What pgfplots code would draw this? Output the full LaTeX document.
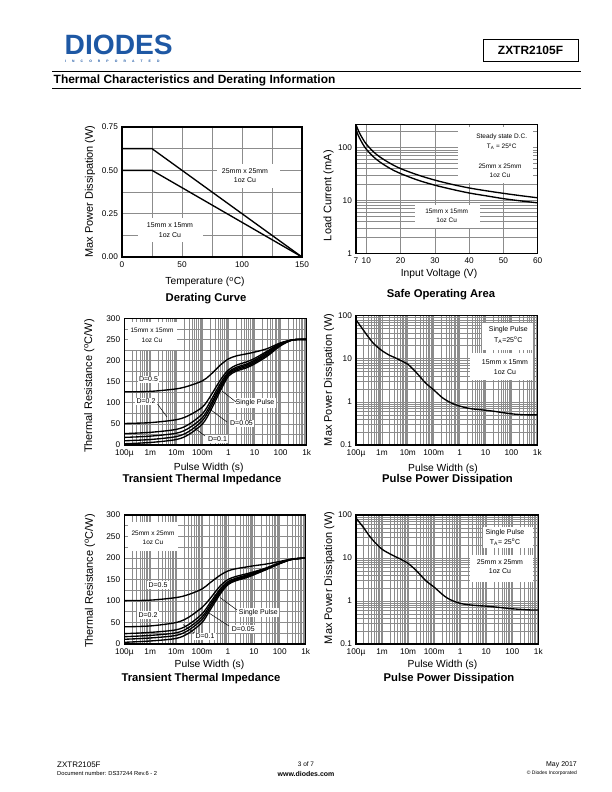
\documentclass[border=0pt]{standalone}
\usepackage{fontspec}
\setmainfont{Liberation Sans}
\usepackage{graphicx}
\usepackage{pgfplots}
\pgfplotsset{compat=1.18}
\definecolor{dblue}{RGB}{30,88,164}
\definecolor{gridc}{gray}{0.55}
\newcommand{\fs}[1]{\fontsize{#1}{#1}\selectfont}

\pgfplotsset{
  ds/.style={
    scale only axis, anchor=south west,
    axis line style={line width=1.1pt},
    major tick length=0pt, minor tick length=0pt,
    grid=both,
    major grid style={gridc, line width=0.7pt},
    minor grid style={gridc, line width=0.7pt},
    ticklabel style={font=\fs{8.3}},
    xticklabel style={yshift=-1.2pt},
    yticklabel style={xshift=-0.6pt},
  },
  crv/.style={black, line width=1.35pt, mark=none},
}

\begin{document}
\begin{tikzpicture}
% page frame
\begin{scope}[x=1bp,y=-1bp]
\fill[white] (0,0) rectangle (612,792);
\path[use as bounding box] (0,0) rectangle (612,792);
\end{scope}

%% Derating curve
\begin{axis}[ds, at={(122bp,-257bp)}, width=180bp, height=130bp,
  xmin=0, xmax=150, ymin=0, ymax=0.75,
  xtick={0,50,100,150}, xticklabels={0,50,100,150}, minor xtick={25,75,125},
  ytick={0,0.25,0.5,0.75}, yticklabels={0.00,0.25,0.50,0.75}, minor ytick={0.125,0.375,0.625}]
\addplot[crv] coordinates {(0,0.625) (25,0.625) (150,0)};
\addplot[crv] coordinates {(0,0.5) (25,0.5) (150,0)};
\end{axis}

%% Safe operating area
\begin{axis}[ds, at={(356bp,-253.3bp)}, width=181.7bp, height=128.6bp,
  xmin=7, xmax=60, ymode=log, ymin=1, ymax=270,
  xtick={7,10,20,30,40,50,60}, xticklabels={7,10,20,30,40,50,60},
  ytick={1,10,100}, yticklabels={1,10,100},
  minor ytick={2,3,4,5,6,7,8,9,20,30,40,50,60,70,80,90,200}]
\addplot[crv, smooth] coordinates {(7,270) (7.5,223) (8,189) (9,145) (10,116) (12,84) (14,66) (17,50) (20,40) (25,30.3) (30,24.2) (35,20.1) (40,17.2) (45,15.2) (50,13.6) (55,12.3) (60,11.2)};
\addplot[crv, smooth] coordinates {(7,217) (7.5,179) (8,152) (9,116) (10,93) (12,67.5) (14,53) (17,40) (20,32.2) (25,24.2) (30,19.4) (35,16.2) (40,13.8) (45,12.2) (50,10.8) (55,9.8) (60,9.0)};
\end{axis}

%% Transient thermal impedance 15mm
\begin{axis}[ds, at={(124.3bp,-445bp)}, width=182.4bp, height=126.7bp,
  xmode=log, xmin=1e-4, xmax=1e3,
  xtick={1e-4,1e-3,1e-2,1e-1,1,10,100,1000},
  xticklabels={100µ,1m,10m,100m,1,10,100,1k},
  minor xtick={2e-4,3e-4,4e-4,5e-4,6e-4,7e-4,8e-4,9e-4,2e-3,3e-3,4e-3,5e-3,6e-3,7e-3,8e-3,9e-3,0.02,0.03,0.04,0.05,0.06,0.07,0.08,0.09,0.2,0.3,0.4,0.5,0.6,0.7,0.8,0.9,2,3,4,5,6,7,8,9,20,30,40,50,60,70,80,90,200,300,400,500,600,700,800,900},
  ymin=0, ymax=300, ytick={0,50,100,150,200,250,300},
  yticklabels={0,50,100,150,200,250,300}, minor ytick={25,75,125,175,225,275}]
\addplot[crv, smooth] coordinates {(1e-4,126) (1e-3,127) (1e-2,133) (3e-2,140) (0.1,152) (0.2,166) (0.5,190) (1,204) (2,211) (5,216) (10,220) (30,228) (100,242) (300,249) (1000,250)};
\addplot[crv, smooth] coordinates {(1e-4,51) (1e-3,53) (1e-2,60) (3e-2,70) (0.1,90) (0.2,115) (0.5,155) (1,178) (2,189) (5,197) (10,205) (30,222) (100,241) (300,249) (1000,250)};
\addplot[crv, smooth] coordinates {(1e-4,27) (1e-3,30) (1e-2,37) (3e-2,49) (0.1,74) (0.2,103) (0.5,147) (1,173) (2,184) (5,192) (10,201) (30,219) (100,240) (300,249) (1000,250)};
\addplot[crv, smooth] coordinates {(1e-4,18) (1e-3,21) (1e-2,28) (3e-2,40) (0.1,65) (0.2,95) (0.5,141) (1,170) (2,181) (5,189) (10,198) (30,216) (100,238) (300,249) (1000,250)};
\addplot[crv, smooth] coordinates {(1e-4,10) (1e-3,13) (1e-2,20) (3e-2,32) (0.1,58) (0.2,88) (0.5,136) (1,167) (2,178) (5,186) (10,195) (30,213) (100,237) (300,249) (1000,250)};
\addplot[crv, smooth] coordinates {(1e-4,3) (1e-3,6) (1e-2,13) (3e-2,25) (0.1,50) (0.2,80) (0.5,130) (1,163) (2,175) (5,183) (10,192) (30,210) (100,235) (300,249) (1000,250)};
\end{axis}

%% Pulse power 15mm
\begin{axis}[ds, at={(356bp,-445bp)}, width=181.3bp, height=129.3bp,
  xmode=log, xmin=1e-4, xmax=1e3,
  xtick={1e-4,1e-3,1e-2,1e-1,1,10,100,1000},
  xticklabels={100µ,1m,10m,100m,1,10,100,1k},
  minor xtick={2e-4,3e-4,4e-4,5e-4,6e-4,7e-4,8e-4,9e-4,2e-3,3e-3,4e-3,5e-3,6e-3,7e-3,8e-3,9e-3,0.02,0.03,0.04,0.05,0.06,0.07,0.08,0.09,0.2,0.3,0.4,0.5,0.6,0.7,0.8,0.9,2,3,4,5,6,7,8,9,20,30,40,50,60,70,80,90,200,300,400,500,600,700,800,900},
  ymode=log, ymin=0.1, ymax=100, ytick={0.1,1,10,100},
  yticklabels={0.1,1,10,100},
  minor ytick={0.2,0.3,0.4,0.5,0.6,0.7,0.8,0.9,2,3,4,5,6,7,8,9,20,30,40,50,60,70,80,90}]
\addplot[crv, smooth] coordinates {(1e-4,80) (2e-4,45) (3e-4,32) (5e-4,22) (1e-3,15.5) (2e-3,12) (3e-3,10.8) (5e-3,9.3) (1e-2,7.5) (2e-2,5) (3e-2,3.8) (5e-2,2.7) (0.1,1.9) (0.2,1.3) (0.3,1.1) (0.5,0.93) (1,0.8) (2,0.72) (3,0.69) (5,0.67) (10,0.64) (20,0.61) (50,0.56) (100,0.53) (200,0.51) (500,0.5) (1000,0.5)};
\end{axis}

%% Transient thermal impedance 25mm
\begin{axis}[ds, at={(124.3bp,-644bp)}, width=181.4bp, height=129bp,
  xmode=log, xmin=1e-4, xmax=1e3,
  xtick={1e-4,1e-3,1e-2,1e-1,1,10,100,1000},
  xticklabels={100µ,1m,10m,100m,1,10,100,1k},
  minor xtick={2e-4,3e-4,4e-4,5e-4,6e-4,7e-4,8e-4,9e-4,2e-3,3e-3,4e-3,5e-3,6e-3,7e-3,8e-3,9e-3,0.02,0.03,0.04,0.05,0.06,0.07,0.08,0.09,0.2,0.3,0.4,0.5,0.6,0.7,0.8,0.9,2,3,4,5,6,7,8,9,20,30,40,50,60,70,80,90,200,300,400,500,600,700,800,900},
  ymin=0, ymax=300, ytick={0,50,100,150,200,250,300},
  yticklabels={0,50,100,150,200,250,300}, minor ytick={25,75,125,175,225,275}]
\addplot[crv, smooth] coordinates {(1e-4,101) (1e-3,102) (1e-2,108) (3e-2,115) (0.1,128) (0.2,142) (0.5,160) (1,170) (2,175) (5,179) (10,182) (30,186) (100,192) (300,198) (1000,200)};
\addplot[crv, smooth] coordinates {(1e-4,40) (1e-3,42) (1e-2,50) (3e-2,62) (0.1,85) (0.2,105) (0.5,135) (1,150) (2,157) (5,163) (10,168) (30,177) (100,189) (300,197) (1000,200)};
\addplot[crv, smooth] coordinates {(1e-4,24) (1e-3,27) (1e-2,33) (3e-2,45) (0.1,70) (0.2,95) (0.5,128) (1,145) (2,153) (5,160) (10,166) (30,176) (100,188) (300,197) (1000,200)};
\addplot[crv, smooth] coordinates {(1e-4,17) (1e-3,20) (1e-2,26) (3e-2,38) (0.1,63) (0.2,89) (0.5,124) (1,142) (2,151) (5,158) (10,164) (30,175) (100,188) (300,197) (1000,200)};
\addplot[crv, smooth] coordinates {(1e-4,11) (1e-3,14) (1e-2,20) (3e-2,32) (0.1,57) (0.2,84) (0.5,120) (1,140) (2,149) (5,156) (10,163) (30,174) (100,187) (300,197) (1000,200)};
\addplot[crv, smooth] coordinates {(1e-4,4) (1e-3,7) (1e-2,13) (3e-2,25) (0.1,50) (0.2,78) (0.5,116) (1,138) (2,147) (5,154) (10,161) (30,173) (100,187) (300,197) (1000,200)};
\end{axis}

%% Pulse power 25mm
\begin{axis}[ds, at={(356bp,-644bp)}, width=182.3bp, height=129bp,
  xmode=log, xmin=1e-4, xmax=1e3,
  xtick={1e-4,1e-3,1e-2,1e-1,1,10,100,1000},
  xticklabels={100µ,1m,10m,100m,1,10,100,1k},
  minor xtick={2e-4,3e-4,4e-4,5e-4,6e-4,7e-4,8e-4,9e-4,2e-3,3e-3,4e-3,5e-3,6e-3,7e-3,8e-3,9e-3,0.02,0.03,0.04,0.05,0.06,0.07,0.08,0.09,0.2,0.3,0.4,0.5,0.6,0.7,0.8,0.9,2,3,4,5,6,7,8,9,20,30,40,50,60,70,80,90,200,300,400,500,600,700,800,900},
  ymode=log, ymin=0.1, ymax=100, ytick={0.1,1,10,100},
  yticklabels={0.1,1,10,100},
  minor ytick={0.2,0.3,0.4,0.5,0.6,0.7,0.8,0.9,2,3,4,5,6,7,8,9,20,30,40,50,60,70,80,90}]
\addplot[crv, smooth] coordinates {(1e-4,85) (2e-4,50) (3e-4,35) (5e-4,24) (1e-3,16) (2e-3,12.5) (3e-3,11) (5e-3,9.5) (1e-2,7.5) (2e-2,5.2) (3e-2,4) (5e-2,2.9) (0.1,2.1) (0.2,1.45) (0.3,1.2) (0.5,1.02) (1,0.88) (2,0.82) (3,0.8) (5,0.78) (10,0.76) (20,0.73) (50,0.69) (100,0.66) (200,0.64) (500,0.62) (1000,0.62)};
\end{axis}

\begin{scope}[x=1bp,y=-1bp]
% ---------- header ----------
\node[anchor=south west, inner sep=0, text=dblue] at (64.5,54.5) {\resizebox{108bp}{19.5bp}{\bfseries DIODES}};
\node[anchor=west, inner sep=0, text=dblue] at (65,61.5) {\fs{3.4}\bfseries I\hspace{6.1pt}N\hspace{6.1pt}C\hspace{6.1pt}O\hspace{6.1pt}R\hspace{6.1pt}P\hspace{6.1pt}O\hspace{6.1pt}R\hspace{6.1pt}A\hspace{6.1pt}T\hspace{6.1pt}E\hspace{6.1pt}D};
\draw[line width=0.8pt] (483,39) rectangle (578,61);
\node at (530.5,50) {\fs{12}\bfseries ZXTR2105F};
\draw[line width=0.9pt] (52,71.5) -- (581,71.5);
\node[anchor=west, inner sep=0] at (53.5,80) {\fs{12}\bfseries Thermal Characteristics and Derating Information};
\draw[line width=2pt] (52,88.5) -- (581,88.5);

% ---------- derating annotations ----------
\fill[white] (217,164) rectangle (280,188);
\node at (245,171) {\fs{7}25mm x 25mm};
\node at (245,180.5) {\fs{7}1oz Cu};
\fill[white] (138,218) rectangle (203,242);
\node at (170,225) {\fs{7}15mm x 15mm};
\node at (170,235) {\fs{7}1oz Cu};
\node[rotate=90] at (90,191.5) {\fs{11}Max Power Dissipation (W)};
\node at (205,282.3) {\fs{10.3}Temperature (\textsuperscript{o}C)};
\node at (206,298.3) {\fs{11.3}\bfseries Derating Curve};

% ---------- SOA annotations ----------
\fill[white] (458,126.5) rectangle (533,183);
\node at (501.7,136.7) {\fs{6.5}Steady state D.C.};
\node at (501.7,146.7) {\fs{6.5}T\textsubscript{A} = 25\textsuperscript{o}C};
\node at (500,166.7) {\fs{6.5}25mm x 25mm};
\node at (500,175.5) {\fs{6.5}1oz Cu};
\fill[white] (415,205) rectangle (480,228.3);
\node at (446.7,211.7) {\fs{6.5}15mm x 15mm};
\node at (446.7,220.5) {\fs{6.5}1oz Cu};
\node[rotate=90] at (328.5,195.7) {\fs{11}Load Current (mA)};
\node at (439,274) {\fs{10.3}Input Voltage (V)};
\node at (441,294.3) {\fs{11.3}\bfseries Safe Operating Area};

% ---------- TTI 15mm annotations ----------
\fill[white] (128,322) rectangle (177,350);
\node at (152,330) {\fs{6.5}15mm x 15mm};
\node at (152,340) {\fs{6.5}1oz Cu};
\node[fill=white, inner sep=1.5pt] at (148.5,379.5) {\fs{7}D=0.5};
\node[fill=white, inner sep=1.5pt] at (146,401.5) {\fs{7}D=0.2};
\draw[line width=0.5pt] (157.5,404) -- (167,417);
\node[fill=white, inner sep=1.5pt] at (255,403) {\fs{7}Single Pulse};
\draw[line width=0.5pt] (236,402) -- (222,391);
\node[fill=white, inner sep=1.5pt] at (241.5,423.5) {\fs{7}D=0.05};
\draw[line width=0.5pt] (227,422) -- (209,408.5);
\node[fill=white, inner sep=1.5pt] at (217.5,439) {\fs{7}D=0.1};
\draw[line width=0.5pt] (205,436) -- (194,427.5);
\node[rotate=90] at (89.3,386) {\fs{11}Thermal Resistance (\textsuperscript{o}C/W)};
\node at (208.7,468) {\fs{10.3}Pulse Width (s)};
\node at (202,479.5) {\fs{11.3}\bfseries Transient Thermal Impedance};

% ---------- PPD 15mm annotations ----------
\fill[white] (482,323.3) rectangle (533.3,350);
\node at (508.3,330) {\fs{7}Single Pulse};
\node at (508.3,340) {\fs{7}T\textsubscript{A}=25\textsuperscript{o}C};
\fill[white] (470,353.3) rectangle (533.3,380);
\node at (505,361.7) {\fs{7}15mm x 15mm};
\node at (505,371.7) {\fs{7}1oz Cu};
\node[rotate=90] at (329,380) {\fs{11}Max Power Dissipation (W)};
\node at (443,468.5) {\fs{10.3}Pulse Width (s)};
\node at (447.5,479.5) {\fs{11.3}\bfseries Pulse Power Dissipation};

% ---------- TTI 25mm annotations ----------
\fill[white] (128,522) rectangle (178,551);
\node at (153,533.3) {\fs{6.5}25mm x 25mm};
\node at (153,542.5) {\fs{6.5}1oz Cu};
\node[fill=white, inner sep=1.5pt] at (158,585) {\fs{7}D=0.5};
\node[fill=white, inner sep=1.5pt] at (148,615) {\fs{7}D=0.2};
\node[fill=white, inner sep=1.5pt] at (258.3,612.3) {\fs{7}Single Pulse};
\draw[line width=0.5pt] (237,610) -- (220,597.5);
\node[fill=white, inner sep=1.5pt] at (243.3,629) {\fs{7}D=0.05};
\draw[line width=0.5pt] (229,626) -- (208.5,612.7);
\node[fill=white, inner sep=1.5pt] at (205,636.5) {\fs{7}D=0.1};
\draw[line width=0.5pt] (194,633) -- (183,624.5);
\node[rotate=90] at (90,581) {\fs{11}Thermal Resistance (\textsuperscript{o}C/W)};
\node at (209.5,665.3) {\fs{10.3}Pulse Width (s)};
\node at (201,678.5) {\fs{11.3}\bfseries Transient Thermal Impedance};

% ---------- PPD 25mm annotations ----------
\fill[white] (483,526.7) rectangle (533.3,548.3);
\node at (505,532.3) {\fs{7}Single Pulse};
\node at (505,542.3) {\fs{7}T\textsubscript{A}= 25\textsuperscript{o}C};
\fill[white] (470,555) rectangle (533.3,581.7);
\node at (500,562.3) {\fs{7}25mm x 25mm};
\node at (500,571) {\fs{7}1oz Cu};
\node[rotate=90] at (329.3,578) {\fs{11}Max Power Dissipation (W)};
\node at (442.5,664.6) {\fs{10.3}Pulse Width (s)};
\node at (449,678.5) {\fs{11.3}\bfseries Pulse Power Dissipation};

% ---------- footer ----------
\node[anchor=west, inner sep=0] at (57,764.5) {\fs{8}ZXTR2105F};
\node[anchor=west, inner sep=0] at (57,773.5) {\fs{5.8}Document number: DS37244 Rev.6 - 2};
\node[inner sep=0] at (306,764.5) {\fs{6.5}3 of 7};
\node[inner sep=0] at (306,773.5) {\fs{7}\bfseries www.diodes.com};
\node[anchor=east, inner sep=0] at (577,764.5) {\fs{7}May 2017};
\node[anchor=east, inner sep=0] at (577,773.5) {\fs{5}© Diodes Incorporated};
\end{scope}
\end{tikzpicture}
\end{document}
